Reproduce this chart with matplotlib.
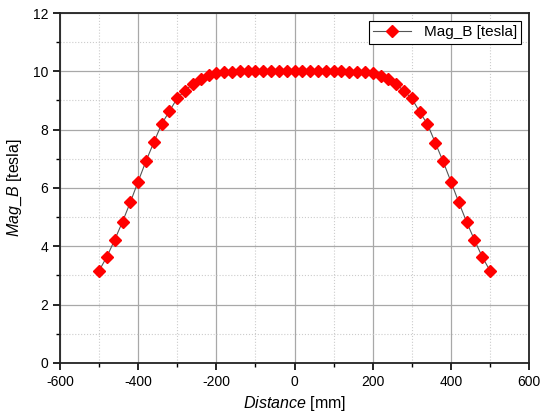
import matplotlib
matplotlib.use("Agg")
import matplotlib.pyplot as plt
from matplotlib.ticker import MultipleLocator

plt.rcParams['font.family'] = ['Liberation Sans', 'DejaVu Sans']
plt.rcParams['mathtext.fontset'] = 'custom'
plt.rcParams['mathtext.rm'] = 'Liberation Sans'
plt.rcParams['mathtext.it'] = 'Liberation Sans:italic'
plt.rcParams['axes.unicode_minus'] = False

distance = [-500, -480, -460, -440, -420, -400, -380, -360, -340, -320, -300,
            -280, -260, -240, -220, -200, -180, -160, -140, -120, -100, -80,
            -60, -40, -20, 0, 20, 40, 60, 80, 100, 120, 140, 160, 180, 200,
            220, 240, 260, 280, 300, 320, 340, 360, 380, 400, 420, 440, 460,
            480, 500]
mag_b = [3.16, 3.64, 4.22, 4.84, 5.51, 6.22, 6.92, 7.56, 8.19, 8.63, 9.08,
         9.34, 9.57, 9.75, 9.87, 9.94, 9.97, 9.99, 10.0, 10.0, 10.0, 10.0,
         10.0, 10.0, 10.0, 10.0, 10.0, 10.0, 10.0, 10.0, 10.0, 10.0, 9.99,
         9.98, 9.96, 9.93, 9.85, 9.73, 9.57, 9.32, 9.07, 8.61, 8.19, 7.55,
         6.91, 6.22, 5.51, 4.84, 4.22, 3.64, 3.16]

fig = plt.figure(figsize=(5.5, 4.2), dpi=100)
ax = fig.add_axes([0.109, 0.136, 0.853, 0.833])

ax.plot(distance, mag_b, color='#555555', lw=0.8, marker='D', markersize=5.8,
        markerfacecolor='red', markeredgecolor='red', label='Mag_B [tesla]',
        zorder=3)

ax.set_xlim(-600, 600)
ax.set_ylim(0, 12)
ax.xaxis.set_major_locator(MultipleLocator(200))
ax.xaxis.set_minor_locator(MultipleLocator(100))
ax.yaxis.set_major_locator(MultipleLocator(2))
ax.yaxis.set_minor_locator(MultipleLocator(1))

ax.grid(which='major', color='#a8a8a8', lw=0.9, ls='-')
ax.grid(which='minor', color='#cccccc', lw=0.8, ls=':')
ax.set_axisbelow(True)

ax.tick_params(which='both', direction='out', top=False, right=False,
               labelsize=10, colors='black')
ax.tick_params(which='major', length=5, width=1.2)
ax.tick_params(which='minor', length=3, width=1.0)
for s in ax.spines.values():
    s.set_linewidth(1.3)
    s.set_color('#222222')

ax.set_xlabel(r'$\mathit{Distance}$ [mm]', fontsize=11.5, labelpad=4)
ax.set_ylabel(r'$\mathit{Mag\_B}$ [tesla]', fontsize=11.5, labelpad=6)

leg = ax.legend(loc='upper right', fontsize=11, fancybox=False,
                edgecolor='black', framealpha=1, borderpad=0.3,
                handlelength=2.5, borderaxespad=0.5)
leg.get_frame().set_linewidth(0.8)

fig.savefig('out.png', dpi=100)
